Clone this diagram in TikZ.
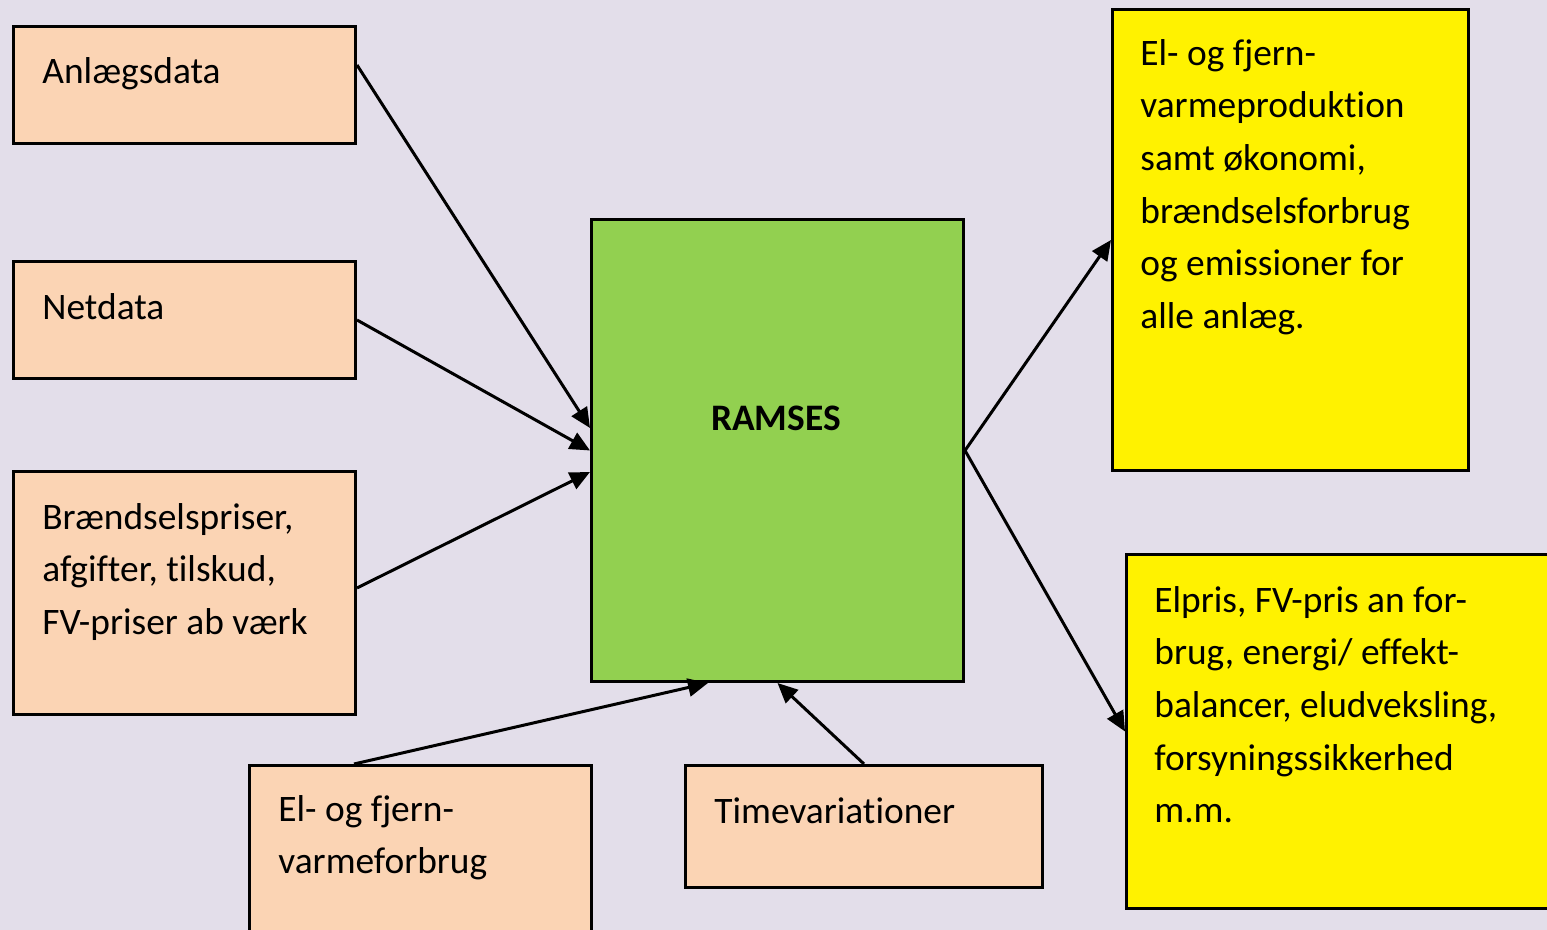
\documentclass[tikz,border=0pt]{standalone}
\usepackage{fontspec}
\setmainfont{Carlito}[Ligatures=NoCommon]
\usepackage{tikz}
\usetikzlibrary{arrows.meta,calc}

\definecolor{bgcol}{HTML}{E3DEEA}
\definecolor{peach}{HTML}{FBD4B4}
\definecolor{grass}{HTML}{92D050}

\begin{document}
\begin{tikzpicture}[x=0.5pt,y=-0.5pt,
  box/.style={draw,line width=1.5pt,rectangle,inner sep=0pt,anchor=north west},
  in node/.style={box,fill=peach},
  out node/.style={box,fill=yellow},
  txt/.style={anchor=north west,inner sep=0pt,align=left,
    font=\fontsize{18.7}{26.3}\selectfont,execute at begin node=\strut},
  arr/.style={-{Triangle[length=10pt,width=9pt]},line width=1.5pt}]

  \useasboundingbox (0,0) rectangle (1547,930);
  \clip (0,0) rectangle (1547,930);
  \fill[bgcol] (0,0) rectangle (1547,930);

  % boxes
  \node[in node,minimum width=171pt,minimum height=58.5pt] (anl) at (12,25) {};
  \node[in node,minimum width=171pt,minimum height=58.5pt] (net) at (12,260) {};
  \node[in node,minimum width=171pt,minimum height=121.5pt] (fuel) at (12,470) {};
  \node[in node,minimum width=171pt,minimum height=100pt] (cons) at (248,764) {};
  \node[in node,minimum width=178.5pt,minimum height=61pt] (time) at (684,764) {};
  \node[box,fill=grass,minimum width=186pt,minimum height=231pt] (ram) at (590,218) {};
  \node[out node,minimum width=178pt,minimum height=230.5pt] (prod) at (1111,8) {};
  \node[out node,minimum width=225pt,minimum height=177pt] (price) at (1125,553) {};

  % texts
  \node[txt] (anl-t) at (42,46) {Anlægsdata};
  \node[txt] (net-t) at (42,282) {Netdata};
  \node[txt] (fuel-t) at (42,503) {Brændselspriser,\\afgifter, tilskud,\\FV-priser ab værk};
  \node[txt] (cons-t) at (278,795) {El- og fjern-\\varmeforbrug};
  \node[txt] (time-t) at (714,786) {Timevariationer};
  \node[anchor=base,inner sep=0pt,font=\fontsize{18.7}{26.3}\selectfont\bfseries] (ram-t) at (776,430) {RAMSES};
  \node[txt] (prod-t) at (1140,39) {El- og fjern-\\varmeproduktion\\samt økonomi,\\brændselsforbrug\\og emissioner for\\alle anlæg.};
  \node[txt] (price-t) at (1154,586) {Elpris, FV-pris an for-\\brug, energi/ effekt-\\balancer, eludveksling,\\forsyningssikkerhed\\m.m.};

  % arrows
  \draw[arr] ($(anl.north east)+(0,40)$) -- ($(ram.north west)+(0,210)$);
  \draw[arr] ($(net.north east)+(0,60)$) -- (ram.west);
  \draw[arr] ($(fuel.north east)+(0,118)$) -- ($(ram.north west)+(0,254)$);
  \draw[arr] ($(cons.north west)+(106,0)$) -- ($(ram.south west)+(118,0)$);
  \draw[arr] (time.north) -- (ram.south);
  \draw[arr] (ram.east) -- (prod.west);
  \draw[arr] (ram.east) -- (price.west);
\end{tikzpicture}
\end{document}
